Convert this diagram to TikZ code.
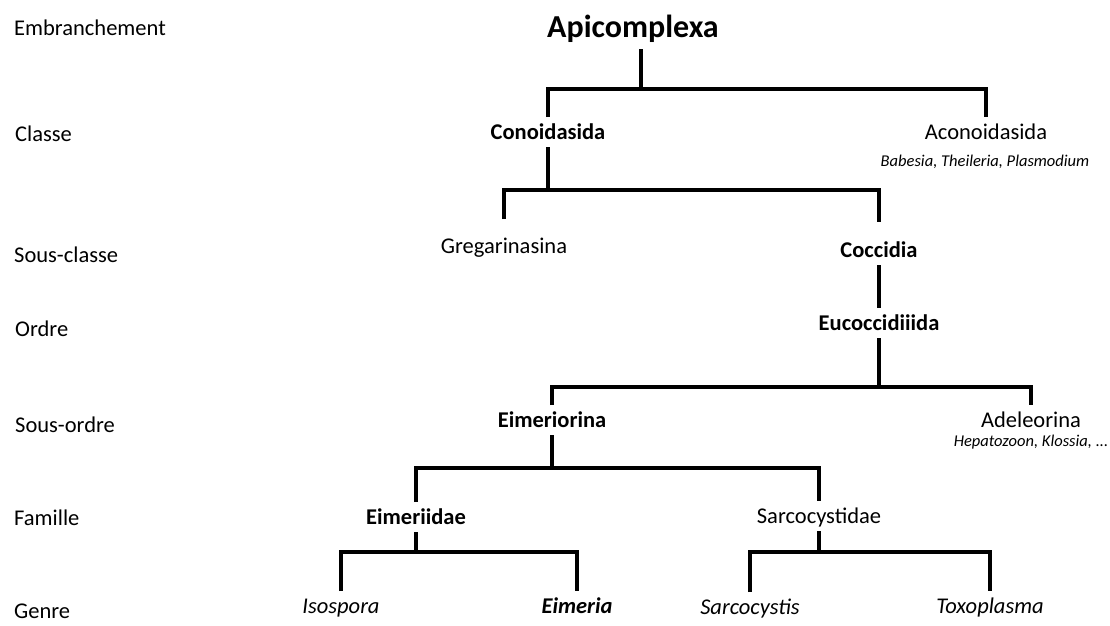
\documentclass[tikz,border=0pt]{standalone}
\usepackage{fontspec}
\setmainfont{Carlito}
\usepackage{tikz}

\begin{document}
\begin{tikzpicture} [x=1pt, y=-1pt,
    taxon/.style={anchor=base, inner sep=0, outer sep=0, text height=22pt, text depth=8pt, font=\fontsize{22.5}{27}\selectfont},
    bold/.style={taxon, font=\fontsize{22.5}{27}\selectfont\bfseries},
    genus/.style={taxon, font=\fontsize{22.5}{27}\selectfont\itshape},
    note/.style={anchor=base, inner sep=0, font=\fontsize{16.5}{20}\selectfont\itshape},
    rank/.style={anchor=base west, inner sep=0, font=\fontsize{22.5}{27}\selectfont},
    branch/.style={line width=3.8pt, line join=miter}]
    \useasboundingbox (0, 0) rectangle (1110, 625);

    % ranks on the left
    \node[rank] (r1) at (14, 35) {Embranchement};
    \node[rank] (r2) at (15, 141) {Classe};
    \node[rank] (r3) at (14, 262) {Sous-classe};
    \node[rank] (r4) at (15, 336) {Ordre};
    \node[rank] (r5) at (15, 432) {Sous-ordre};
    \node[rank] (r6) at (14, 525) {Famille};
    \node[rank] (r7) at (14, 618) {Genre};

    % phylum
    \node[taxon, text depth=12pt, font=\fontsize{32}{38}\selectfont\bfseries] (apic) at (633, 37) {Apicomplexa};
    % classes
    \node[bold] (cono) at (548, 139) {Conoidasida};
    \node[taxon] (acono) at (986, 139) {Aconoidasida};
    \node[note] (babe) at (985, 166) {Babesia, Theileria, Plasmodium};
    % sub-classes
    \node[taxon, text height=34pt] (greg) at (504, 253) {Gregarinasina};
    \node[bold, text height=35pt] (cocc) at (879, 257) {Coccidia};
    % order
    \node[bold] (euco) at (879, 330) {Eucoccidiiida};
    % sub-orders
    \node[bold] (eimo) at (552, 427) {Eimeriorina};
    \node[taxon] (adel) at (1031, 427) {Adeleorina};
    \node[note] (hepa) at (1031, 446) {Hepatozoon, Klossia, ...};
    % families
    \node[bold] (eimi) at (416, 524) {Eimeriidae};
    \node[taxon] (sarc) at (819, 523) {Sarcocystidae};
    % genera
    \node[genus] (isos) at (341, 613) {Isospora};
    \node[genus, font=\fontsize{22.5}{27}\selectfont\bfseries\itshape] (eime) at (577, 613) {Eimeria};
    \node[genus] (sarcy) at (750, 614) {Sarcocystis};
    \node[genus] (toxo) at (990, 613) {Toxoplasma};

    % junctions
    \coordinate (j0) at (641, 89);
    \coordinate (j1) at (cono.south |- 0, 190);
    \coordinate (j2) at (euco.south |- 0, 387);
    \coordinate (j3) at (eimo.south |- 0, 468);
    \coordinate (j4) at (eimi.south |- 0, 552);
    \coordinate (j5) at (sarc.south |- 0, 552);

    % draw tree
    \draw[branch] (apic.south -| j0) -- (j0);
    \draw[branch] (cono.north) |- (j0) -| (acono.north);

    \draw[branch] (cono.south) -- (j1);
    \draw[branch] (greg.north) |- (j1) -| (cocc.north);

    \draw[branch] (cocc.south) -- (euco.north);

    \draw[branch] (euco.south) -- (j2);
    \draw[branch] (eimo.north) |- (j2) -| (adel.north);

    \draw[branch] (eimo.south) -- (j3);
    \draw[branch] (eimi.north) |- (j3) -| (sarc.north);

    \draw[branch] (eimi.south) -- (j4);
    \draw[branch] (isos.north) |- (j4) -| (eime.north);

    \draw[branch] (sarc.south) -- (j5);
    \draw[branch] (sarcy.north) |- (j5) -| (toxo.north);

\end{tikzpicture}
\end{document}
